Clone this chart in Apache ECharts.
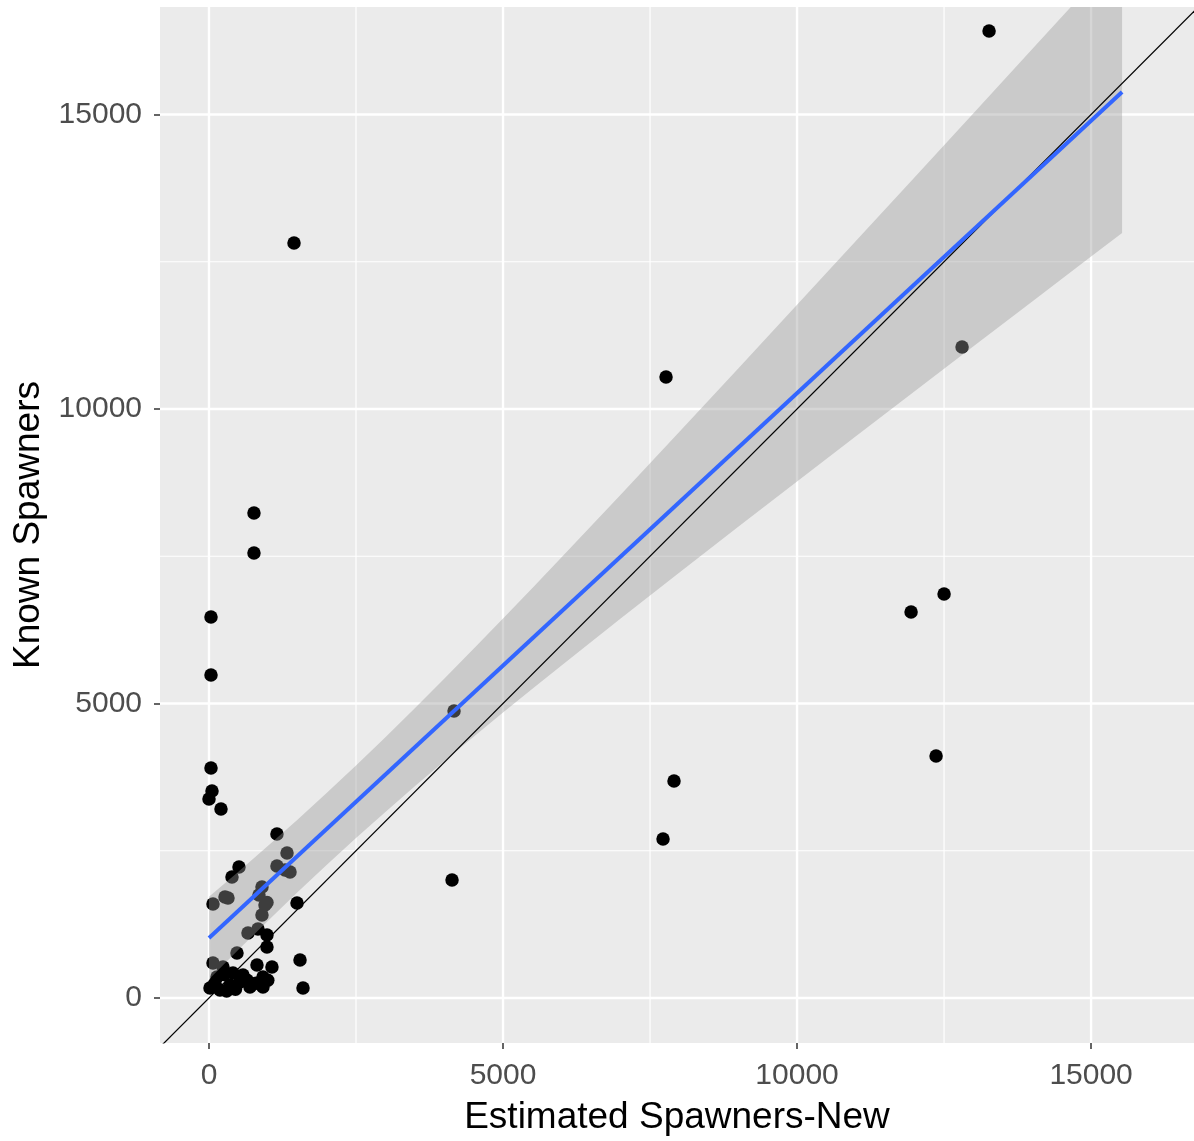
<!DOCTYPE html>
<html><head><meta charset="utf-8">
<script src="https://cdn.jsdelivr.net/npm/echarts@6/dist/echarts.min.js"></script>
<style>html,body{margin:0;padding:0;background:#fff}#c{width:1194px;height:1141px}</style>
</head><body><div id="c"></div>
<script>
// Observed points
const estimatedSpawners = [13265,1446,7772,12806,765,765,34,34,11939,12500,12364,7908,7721,4133,4167,34,51,0,204,1156,1327,510,391,1156,1293,901,
  272,68,952,901,1497,663,833,986,986,476,1548,68,238,816,1071,408,578,136,918,17,187,357,527,697,918,1599,
  850,986,100,300,450,650,250,800,1000,323,1378];
const knownSpawners = [16418,12818,10543,11053,8234,7555,6469,5484,6553,6859,4109,3684,2699,2003,4873,3905,3514,3379,3209,2784,2462,2224,2054,2241,2173,1885,
  1715,1596,1579,1409,1613,1104,1171,1070,866,764,645,594,526,560,526,424,390,357,357,170,136,221,272,187,187,170,
  1750,1620,250,120,150,300,400,250,300,1698,2139];

// Linear fit (blue) and its confidence band
const fitX = [0, 15527];
const fitY = [1019, 15381];
const bandX = [0,500,1000,1500,2000,2500,3000,3500,4000,4500,5000,5500,6000,7000,8000,9000,10000,11000,12000,13000,14000,15000,15527];
const bandUpper = [1719,2144,2579,3024,3480,3949,4429,4920,5419,5928,6442,6962,7487,8545,9614,10689,11768,12851,13936,15023,16111,17201,17775];
const bandLower = [319,819,1309,1790,2258,2715,3159,3594,4019,4436,4846,5251,5651,6443,7224,7999,8770,9537,10302,11065,11827,12587,12987];

// 1:1 reference line
const refLine = [[-2000,-2000],[18000,18000]];

// Axis ticks
const xTicks = [0,5000,10000,15000];
const yTicks = [0,5000,10000,15000];
const xMinor = [2500,7500,12500];
const yMinor = [2500,7500,12500];

const FONT = 'Liberation Sans, Arial, sans-serif';

const gridData = [];
xTicks.forEach(v => gridData.push([0, v, 1]));
xMinor.forEach(v => gridData.push([0, v, 0]));
yTicks.forEach(v => gridData.push([1, v, 1]));
yMinor.forEach(v => gridData.push([1, v, 0]));

const chart = echarts.init(document.getElementById('c'), null, {renderer: 'canvas'});
chart.setOption({
  animation: false,
  backgroundColor: '#ffffff',
  grid: {left: 160, top: 7, right: 0, bottom: 98, show: true, backgroundColor: '#EBEBEB', borderWidth: 0},
  xAxis: {
    type: 'value', min: -833, max: 16750,
    splitLine: {show: false},
    axisLine: {show: false, onZero: false},
    axisTick: {show: true, customValues: xTicks, length: 6, lineStyle: {color: '#333333', width: 1.5}},
    axisLabel: {customValues: xTicks, formatter: v => String(v), fontSize: 30, color: '#4D4D4D', fontFamily: FONT, margin: 18},
    name: 'Estimated Spawners-New', nameLocation: 'middle', nameGap: 56,
    nameTextStyle: {fontSize: 37, color: '#000000', fontFamily: FONT}
  },
  yAxis: {
    type: 'value', min: -764, max: 16825,
    splitLine: {show: false},
    axisLine: {show: false, onZero: false},
    axisTick: {show: true, customValues: yTicks, length: 6, lineStyle: {color: '#333333', width: 1.5}},
    axisLabel: {customValues: yTicks, formatter: v => String(v), fontSize: 30, color: '#4D4D4D', fontFamily: FONT, margin: 18},
    name: 'Known Spawners', nameLocation: 'middle', nameGap: 112,
    nameTextStyle: {fontSize: 37, color: '#000000', fontFamily: FONT}
  },
  series: [
    {
      type: 'custom', z: 1, silent: true, clip: true,
      data: gridData,
      renderItem: function (params, api) {
        const cs = params.coordSys;
        const dir = api.value(0), v = api.value(1), major = api.value(2);
        const w = major ? 2.4 : 1.2;
        if (dir === 0) {
          const x = api.coord([v, 0])[0];
          return {type: 'line', shape: {x1: x, y1: cs.y, x2: x, y2: cs.y + cs.height}, style: {stroke: '#ffffff', lineWidth: w}};
        } else {
          const y = api.coord([0, v])[1];
          return {type: 'line', shape: {x1: cs.x, y1: y, x2: cs.x + cs.width, y2: y}, style: {stroke: '#ffffff', lineWidth: w}};
        }
      }
    },
    {
      type: 'scatter', z: 2, silent: true,
      data: estimatedSpawners.map((x, i) => [x, knownSpawners[i]]),
      symbol: 'circle', symbolSize: 13.5,
      itemStyle: {color: '#000000', opacity: 1}
    },
    {
      type: 'custom', z: 3, silent: true, clip: true,
      data: [[0, 0]],
      renderItem: function (params, api) {
        const pts = [];
        for (let i = 0; i < bandX.length; i++) pts.push(api.coord([bandX[i], bandUpper[i]]));
        for (let i = bandX.length - 1; i >= 0; i--) pts.push(api.coord([bandX[i], bandLower[i]]));
        return {type: 'polygon', shape: {points: pts}, style: {fill: 'rgba(153,153,153,0.4)'}};
      }
    },
    {
      type: 'line', z: 4, silent: true, clip: true,
      data: refLine, symbol: 'none',
      lineStyle: {color: '#000000', width: 1.2}
    },
    {
      type: 'line', z: 5, silent: true, clip: true,
      data: fitX.map((x, i) => [x, fitY[i]]), symbol: 'none',
      lineStyle: {color: '#3366FF', width: 4}
    }
  ]
});
</script>
</body></html>
